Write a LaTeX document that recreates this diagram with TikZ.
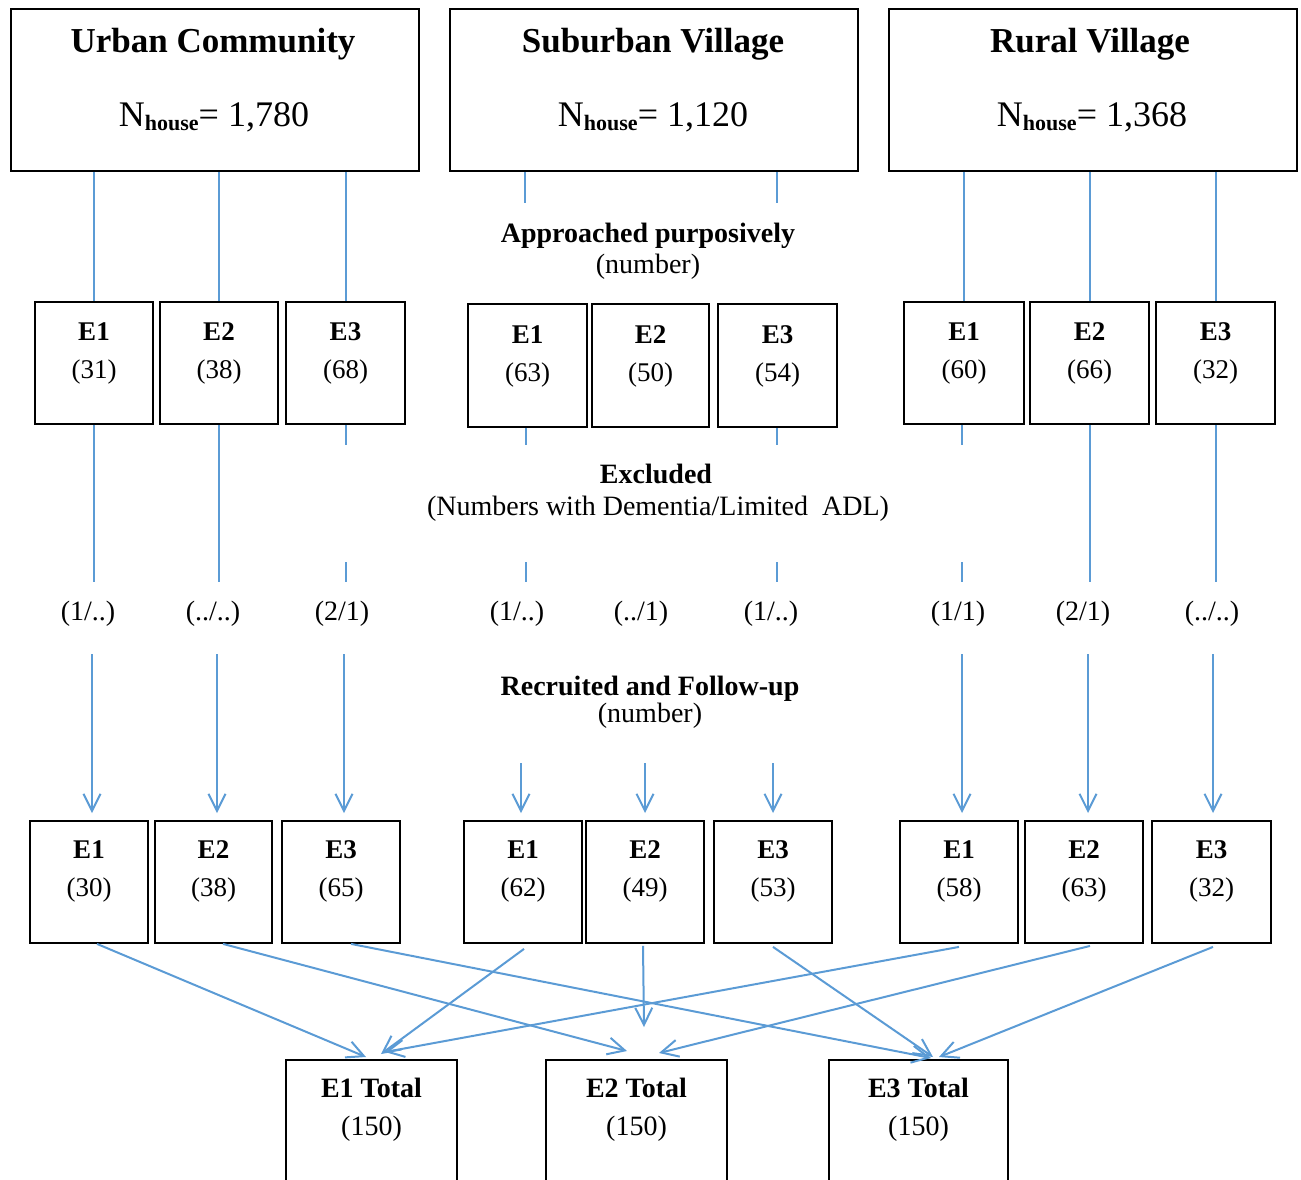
\documentclass[tikz,border=0pt]{standalone}
\usepackage{fontspec}
\setmainfont{Liberation Serif}
\usetikzlibrary{arrows.meta}
\definecolor{lblue}{RGB}{91,155,213}
\begin{document}
\begin{tikzpicture}[x=1pt,y=-1pt,
  box/.style={draw=black,line width=1.8pt,inner sep=0pt},
  conn/.style={draw=lblue,line width=2pt},
  arr/.style={draw=lblue,line width=2pt,-{Straight Barb[length=17pt,width=17pt]}},
  etxt/.style={anchor=base,inner sep=0pt,font=\fontsize{27}{29}\selectfont},
  mtxt/.style={anchor=base,inner sep=0pt,font=\fontsize{28}{30}\selectfont},
  ttl/.style={anchor=base,inner sep=0pt,font=\fontsize{35}{37}\selectfont\bfseries},
  ntxt/.style={anchor=base,inner sep=0pt,font=\fontsize{36}{38}\selectfont}]
\useasboundingbox (0,0) rectangle (1301,1179);

% row coordinates
\coordinate (yA) at (0,445);
\coordinate (yB) at (0,562);
\coordinate (yC) at (0,582);
\coordinate (yD) at (0,654);
\coordinate (yE) at (0,763);
\coordinate (yF) at (0,813);
\coordinate (yS) at (0,203);

% top boxes
\node[box,minimum width=408pt,minimum height=162pt] (U) at (215,90) {};
\node[box,minimum width=408pt,minimum height=162pt] (S) at (654,90) {};
\node[box,minimum width=408pt,minimum height=162pt] (R) at (1093,90) {};
\node[ttl] (Ut) at (213,52) {Urban Community};
\node[ttl] (St) at (653,52) {Suburban Village};
\node[ttl] (Rt) at (1090,52) {Rural Village};
\node[ntxt] (Un) at (214,126) {N\raisebox{-4pt}{\fontsize{22}{22}\selectfont\bfseries house}= 1,780};
\node[ntxt] (Sn) at (653,126) {N\raisebox{-4pt}{\fontsize{22}{22}\selectfont\bfseries house}= 1,120};
\node[ntxt] (Rn) at (1092,126) {N\raisebox{-4pt}{\fontsize{22}{22}\selectfont\bfseries house}= 1,368};

% approached row
\foreach \n/\x/\w/\lab/\num in {ua1/94/118/E1/31, ua2/219/118/E2/38, ua3/345.5/119/E3/68,
  ra1/964/120/E1/60, ra2/1089.5/119/E2/66, ra3/1215.5/119/E3/32} {
  \node[box,minimum width=\w pt,minimum height=122pt] (\n) at (\x,363) {};
  \node[etxt] (\n-l) at (\x,340) {\textbf{\lab}};
  \node[etxt] (\n-n) at (\x,378) {(\num)};
}
\foreach \n/\x/\w/\lab/\num in {sa1/527.5/119/E1/63, sa2/650.5/117/E2/50, sa3/777.5/119/E3/54} {
  \node[box,minimum width=\w pt,minimum height=123pt] (\n) at (\x,365.5) {};
  \node[etxt] (\n-l) at (\x,343) {\textbf{\lab}};
  \node[etxt] (\n-n) at (\x,381) {(\num)};
}

% recruited row
\foreach \n/\x/\w/\lab/\num in {ub1/89/118/E1/30, ub2/213.5/117/E2/38, ub3/341/118/E3/65,
  sb1/523/118/E1/62, sb2/645/118/E2/49, sb3/773/118/E3/53,
  rb1/959/118/E1/58, rb2/1084/118/E2/63, rb3/1211.5/119/E3/32} {
  \node[box,minimum width=\w pt,minimum height=122pt] (\n) at (\x,882) {};
  \node[etxt] (\n-l) at (\x,858) {\textbf{\lab}};
  \node[etxt] (\n-n) at (\x,896) {(\num)};
}

% totals
\node[box,minimum width=171pt,minimum height=140pt] (T1) at (371.5,1130) {};
\node[box,minimum width=181pt,minimum height=140pt] (T2) at (636.5,1130) {};
\node[box,minimum width=179pt,minimum height=140pt] (T3) at (918.5,1130) {};
\node[mtxt] (T1l) at (371.5,1097) {\textbf{E1 Total}};
\node[mtxt] (T2l) at (636.5,1097) {\textbf{E2 Total}};
\node[mtxt] (T3l) at (918.5,1097) {\textbf{E3 Total}};
\node[mtxt] (T1n) at (371.5,1135) {(150)};
\node[mtxt] (T2n) at (636.5,1135) {(150)};
\node[mtxt] (T3n) at (918.5,1135) {(150)};

% middle captions
\node[mtxt] (ap1) at (648,242) {\textbf{Approached purposively}};
\node[mtxt] (ap2) at (648,273) {(number)};
\node[mtxt] (ex1) at (656,483) {\textbf{Excluded}};
\node[mtxt] (ex2) at (658,515) {(Numbers with Dementia/Limited\ \ ADL)};
\node[mtxt] (rc1) at (650,695) {\textbf{Recruited and Follow-up}};
\node[mtxt] (rc2) at (650,722) {(number)};

% exclusion numbers
\foreach \n/\x/\t in {x1/88/{(1/..)}, x2/213/{(../..)}, x3/342/{(2/1)}, x4/517/{(1/..)}, x5/641/{(../1)},
  x6/771/{(1/..)}, x7/958/{(1/1)}, x8/1083/{(2/1)}, x9/1212/{(../..)}} {
  \node[mtxt] (\n) at (\x,620) {\t};
}

% top connectors
\draw[conn] (ua1.north |- U.south) -- (ua1.north);
\draw[conn] (ua2.north |- U.south) -- (ua2.north);
\draw[conn] (ua3.north |- U.south) -- (ua3.north);
\draw[conn] (ra1.north |- R.south) -- (ra1.north);
\draw[conn] (ra2.north |- R.south) -- (ra2.north);
\draw[conn] (ra3.north |- R.south) -- (ra3.north);
\coordinate (s1e) at (525,203);
\coordinate (s3e) at (777,203);
\draw[conn] (s1e |- S.south) -- (s1e);
\draw[conn] (s3e |- S.south) -- (s3e);

% below approached boxes
\draw[conn] (ua1.south) -- (ua1.south |- yC);
\draw[conn] (ua2.south) -- (ua2.south |- yC);
\draw[conn] (ua3.south) -- (ua3.south |- yA);
\draw[conn] (ua3.south |- yB) -- (ua3.south |- yC);
\draw[conn] ([xshift=-2pt]sa1.south) -- ([xshift=-2pt]sa1.south |- yA);
\draw[conn] ([xshift=-2pt]sa1.south |- yB) -- ([xshift=-2pt]sa1.south |- yC);
\draw[conn] ([xshift=-1pt]sa3.south) -- ([xshift=-1pt]sa3.south |- yA);
\draw[conn] ([xshift=-1pt]sa3.south |- yB) -- ([xshift=-1pt]sa3.south |- yC);
\draw[conn] ([xshift=-2pt]ra1.south) -- ([xshift=-2pt]ra1.south |- yA);
\draw[conn] ([xshift=-2pt]ra1.south |- yB) -- ([xshift=-2pt]ra1.south |- yC);
\draw[conn] (ra2.south) -- (ra2.south |- yC);
\draw[conn] (ra3.south) -- (ra3.south |- yC);

% arrows to recruited boxes
\draw[arr] ([xshift=-2pt]ua1.south |- yD) -- ([xshift=-2pt]ua1.south |- yF);
\draw[arr] ([xshift=-2pt]ua2.south |- yD) -- ([xshift=-2pt]ua2.south |- yF);
\draw[arr] ([xshift=-1.5pt]ua3.south |- yD) -- ([xshift=-1.5pt]ua3.south |- yF);
\draw[arr] ([xshift=-2pt]sb1.north |- yE) -- ([xshift=-2pt]sb1.north |- yF);
\draw[arr] (sb2.north |- yE) -- (sb2.north |- yF);
\draw[arr] (sb3.north |- yE) -- (sb3.north |- yF);
\draw[arr] ([xshift=-2pt]ra1.south |- yD) -- ([xshift=-2pt]ra1.south |- yF);
\draw[arr] ([xshift=-1.5pt]ra2.south |- yD) -- ([xshift=-1.5pt]ra2.south |- yF);
\draw[arr] ([xshift=-2.5pt]ra3.south |- yD) -- ([xshift=-2.5pt]ra3.south |- yF);

% crossing arrows to totals
\coordinate (tu1) at (366,1057);
\coordinate (ts1) at (381,1054);
\coordinate (tr1) at (385,1052);
\coordinate (tu2) at (627,1051);
\coordinate (ts2) at (644,1027);
\coordinate (tr2) at (659,1053);
\coordinate (tu3) at (931,1058);
\coordinate (ts3) at (933,1057);
\coordinate (tr3) at (939,1057);
\draw[arr] ([xshift=8pt]ub1.south) -- (tu1);
\draw[arr] ([xshift=9.5pt]ub2.south) -- (tu2);
\draw[arr] ([xshift=10pt]ub3.south) -- (tu3);
\draw[arr] ([xshift=1pt,yshift=-5pt]sb1.south) -- (ts1);
\draw[arr] ([xshift=-2pt,yshift=-2pt]sb2.south) -- (ts2);
\draw[arr] ([yshift=-3pt]sb3.south) -- (ts3);
\draw[arr] ([yshift=-3pt]rb1.south) -- (tr1);
\draw[arr] ([xshift=6pt,yshift=-2pt]rb2.south) -- (tr2);
\draw[arr] ([xshift=1.5pt,yshift=-3pt]rb3.south) -- (tr3);
\end{tikzpicture}
\end{document}
